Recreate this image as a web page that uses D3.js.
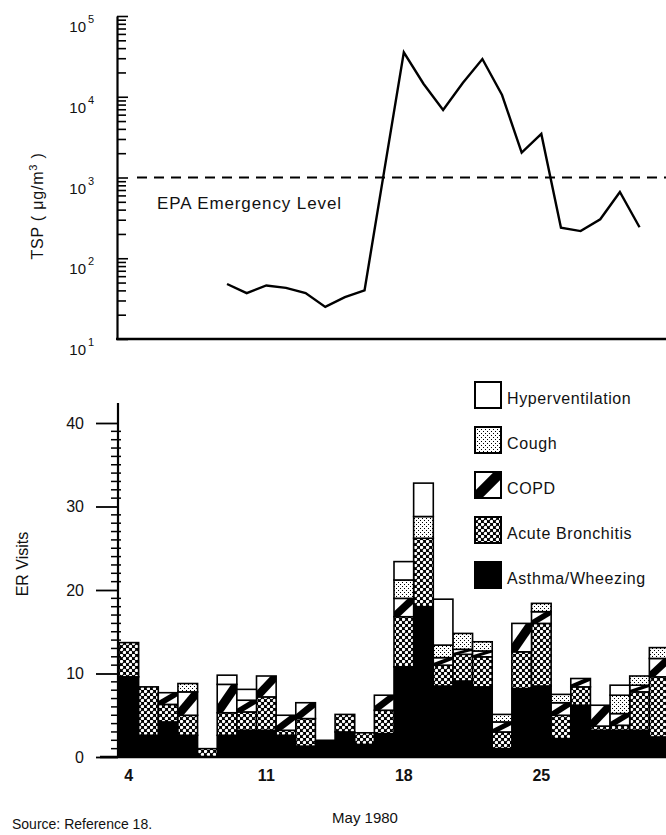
<!DOCTYPE html>
<html>
<head>
<meta charset="utf-8">
<script src="https://cdn.jsdelivr.net/npm/d3@7"></script>
<style>
  body { margin: 0; background: #fff; }
  svg { display: block; }
  text { font-family: "Liberation Sans", Arial, Helvetica, sans-serif; fill: #111; }
</style>
</head>
<body>
<div id="chart"></div>
<script>
// ER visits per day, May 4 .. May 31 1980 (stack order bottom -> top)
const days = d3.range(4, 32);
const asthma     = [9.6, 2.6, 4.2, 2.6, 0, 2.6, 3.2, 3.2, 2.6, 1.3, 2.0, 3.0, 1.5, 2.8, 10.8, 18.0, 8.5, 9.1, 8.4, 1.0, 8.2, 8.5, 2.2, 6.2, 3.2, 3.2, 3.2, 2.4];
const bronchitis = [4.1, 5.8, 2.1, 2.4, 1.0, 2.7, 2.2, 4.0, 0.6, 3.3, 0, 2.1, 1.4, 2.8, 6.0, 8.2, 2.5, 3.2, 3.6, 2.0, 4.4, 7.5, 2.8, 2.2, 0.5, 0.6, 4.6, 7.2];
const copd       = [0, 0, 1.4, 2.8, 0, 3.4, 1.4, 2.5, 1.8, 1.9, 0, 0, 0, 1.8, 2.2, 0, 0.9, 0.6, 0.7, 1.2, 3.4, 1.4, 1.5, 1.0, 2.5, 1.4, 0.8, 2.2];
const cough      = [0, 0, 0, 1.0, 0, 0, 0, 0, 0, 0, 0, 0, 0, 0, 2.2, 2.6, 1.5, 1.9, 1.1, 0.9, 0, 1.0, 1.0, 0, 0, 2.2, 1.1, 1.3];
const hypervent  = [0, 0, 0, 0, 0, 1.1, 1.3, 0, 0, 0, 0, 0, 0, 0, 2.2, 4.0, 5.5, 0, 0, 0, 0, 0, 0, 0, 0, 1.2, 0, 0];

// total suspended particulates, May 9 .. May 30
const tspDays = d3.range(9, 31);
const tspValues = [48, 37, 46, 43, 37, 25, 33, 40, 1200, 35500, 14500, 6850, 14800, 29300, 10500, 2030, 3460, 239, 217, 304, 661, 242];
const epaLevel = 1000;

const tspTicks = [10, 100, 1000, 10000, 100000];
const visitTicks = [0, 10, 20, 30, 40];
const dayTicks = [4, 11, 18, 25];

const keys = ['asthma', 'bronchitis', 'copd', 'cough', 'hypervent'];
const legendItems = [
  { key: 'hypervent', label: 'Hyperventilation' },
  { key: 'cough', label: 'Cough' },
  { key: 'copd', label: 'COPD' },
  { key: 'bronchitis', label: 'Acute Bronchitis' },
  { key: 'asthma', label: 'Asthma/Wheezing' }
];

const W = 666, H = 835;
const svg = d3.select('#chart').append('svg').attr('width', W).attr('height', H);

// patterns
const defs = svg.append('defs');
const stip = defs.append('pattern').attr('id', 'stipple')
  .attr('patternUnits', 'userSpaceOnUse').attr('width', 4).attr('height', 4);
stip.append('rect').attr('width', 4).attr('height', 4).attr('fill', '#fff');
stip.append('rect').attr('width', 1).attr('height', 1).attr('fill', '#000');
stip.append('rect').attr('x', 2).attr('y', 2).attr('width', 1).attr('height', 1).attr('fill', '#000');

const hatch = defs.append('pattern').attr('id', 'xhatch')
  .attr('patternUnits', 'userSpaceOnUse').attr('width', 6).attr('height', 6);
hatch.append('rect').attr('width', 6).attr('height', 6).attr('fill', '#000');
hatch.append('circle').attr('cx', 1.5).attr('cy', 1.5).attr('r', 1.7).attr('fill', '#fff');
hatch.append('circle').attr('cx', 4.5).attr('cy', 4.5).attr('r', 1.7).attr('fill', '#fff');

const fills = {
  asthma: '#000',
  bronchitis: 'url(#xhatch)',
  copd: '#fff',
  cough: 'url(#stipple)',
  hypervent: '#fff'
};

// diagonal band used for COPD boxes
function slashPoints(x0, x1, y0, y1) {
  const w = x1 - x0, h = y1 - y0, t = 0.28;
  return [[x0, y1 - t * h], [x1 - t * w, y0], [x1, y0], [x1, y0 + t * h], [x0 + t * w, y1], [x0, y1]]
    .map(p => p.join(',')).join(' ');
}

// shared x scale
const x = d3.scaleBand().domain(days).range([119, 669]).padding(0);
const xc = d => x(d) + x.bandwidth() / 2;

// ---------------- top panel: TSP ----------------
const yTsp = d3.scaleLog().domain([10, 1e5]).range([339, 16]);

const logTicks = [];
for (let p = 1; p < 5; p++) for (let m = 1; m < 10; m++) logTicks.push(m * Math.pow(10, p));
logTicks.push(1e5);

svg.append('g')
  .attr('transform', 'translate(117,0)')
  .call(d3.axisRight(yTsp).tickValues(logTicks).tickSize(9).tickSizeOuter(0).tickFormat(''))
  .call(g => g.select('.domain').attr('stroke-width', 2.2))
  .call(g => g.selectAll('.tick line').attr('stroke-width', 1.6)
    .attr('x2', d => tspTicks.includes(d) ? 11 : 9));

svg.append('line')
  .attr('x1', 116).attr('x2', W).attr('y1', yTsp(10)).attr('y2', yTsp(10))
  .attr('stroke', '#000').attr('stroke-width', 2.4);

const tl = svg.append('g').selectAll('g').data(tspTicks).enter().append('g');
tl.append('text')
  .attr('x', 86).attr('y', d => yTsp(d) + 16)
  .attr('text-anchor', 'end').style('font-size', '15px')
  .text('10');
tl.append('text')
  .attr('x', 88).attr('y', d => yTsp(d) + 7)
  .style('font-size', '11px')
  .text(d => Math.round(Math.log10(d)));

svg.append('text')
  .attr('transform', 'translate(43,206) rotate(-90)')
  .attr('text-anchor', 'middle')
  .style('font-size', '16px').style('letter-spacing', '0.8px')
  .call(t => {
    t.append('tspan').text('TSP ( \u03bcg/m');
    t.append('tspan').attr('dy', -6).style('font-size', '11px').text('3');
    t.append('tspan').attr('dy', 6).text(' )');
  });

svg.append('line')
  .attr('x1', 137).attr('x2', W)
  .attr('y1', yTsp(epaLevel)).attr('y2', yTsp(epaLevel))
  .attr('stroke', '#000').attr('stroke-width', 2)
  .attr('stroke-dasharray', '10,7');

svg.append('text')
  .attr('x', 157).attr('y', yTsp(epaLevel) + 31)
  .style('font-size', '17px').style('letter-spacing', '0.9px')
  .text('EPA Emergency Level');

const tspLine = d3.line()
  .x((d, i) => xc(tspDays[i]))
  .y(d => yTsp(d));

svg.append('path')
  .datum(tspValues)
  .attr('d', tspLine)
  .attr('fill', 'none')
  .attr('stroke', '#000')
  .attr('stroke-width', 2.4)
  .attr('stroke-linejoin', 'miter');

// ---------------- bottom panel: ER visits ----------------
const yVis = d3.scaleLinear().domain([0, 40]).range([757, 423]);

const rows = days.map((d, i) => ({
  day: d,
  asthma: asthma[i],
  bronchitis: bronchitis[i],
  copd: copd[i],
  cough: cough[i],
  hypervent: hypervent[i]
}));
const series = d3.stack().keys(keys)(rows);

const bars = svg.append('g');
series.forEach(s => {
  const segs = s.filter(d => d[1] - d[0] > 0);
  const g = bars.append('g');
  g.selectAll('rect').data(segs).enter().append('rect')
    .attr('x', d => x(d.data.day))
    .attr('y', d => yVis(d[1]))
    .attr('width', x.bandwidth())
    .attr('height', d => yVis(d[0]) - yVis(d[1]))
    .attr('fill', fills[s.key])
    .attr('stroke', '#000')
    .attr('stroke-width', 1.6);
  if (s.key === 'copd') {
    g.selectAll('polygon').data(segs).enter().append('polygon')
      .attr('points', d => slashPoints(x(d.data.day), x(d.data.day) + x.bandwidth(), yVis(d[1]), yVis(d[0])))
      .attr('fill', '#000');
  }
});

// y axis
svg.append('line')
  .attr('x1', 118).attr('x2', 118).attr('y1', 403).attr('y2', yVis(0))
  .attr('stroke', '#000').attr('stroke-width', 2.2);

svg.append('g').selectAll('line')
  .data(d3.range(1, 41).filter(v => v % 10 !== 0))
  .enter().append('line')
  .attr('x1', 111).attr('x2', 121)
  .attr('y1', d => yVis(d)).attr('y2', d => yVis(d))
  .attr('stroke', '#000').attr('stroke-width', 1.5);

svg.append('g')
  .attr('transform', 'translate(118,0)')
  .call(d3.axisLeft(yVis).tickValues(visitTicks).tickSize(22).tickPadding(12).tickSizeOuter(0))
  .call(g => g.select('.domain').remove())
  .call(g => g.selectAll('.tick line').attr('stroke-width', 1.8))
  .call(g => g.selectAll('.tick text')
    .style('font-size', '16px')
    .style('font-family', '"Liberation Sans", Arial, sans-serif')
    .attr('fill', '#111'));

// baseline
svg.append('line')
  .attr('x1', 100).attr('x2', W).attr('y1', yVis(0)).attr('y2', yVis(0))
  .attr('stroke', '#000').attr('stroke-width', 2.4);

svg.append('g')
  .attr('transform', `translate(0,${yVis(0)})`)
  .call(d3.axisBottom(x).tickValues(dayTicks).tickSize(0).tickPadding(13))
  .call(g => g.select('.domain').remove())
  .call(g => g.selectAll('.tick text')
    .style('font-size', '16px')
    .style('font-weight', 'bold')
    .style('font-family', '"Liberation Sans", Arial, sans-serif')
    .attr('fill', '#111'));

svg.append('text')
  .attr('transform', 'translate(28,564) rotate(-90)')
  .attr('text-anchor', 'middle')
  .style('font-size', '16px')
  .text('ER Visits');

// legend
const leg = svg.append('g').selectAll('g').data(legendItems).enter().append('g')
  .attr('transform', (d, i) => `translate(475,${382 + i * 45})`);
leg.append('rect')
  .attr('width', 26).attr('height', 26)
  .attr('fill', d => fills[d.key])
  .attr('stroke', '#000').attr('stroke-width', 2);
leg.filter(d => d.key === 'copd').append('polygon')
  .attr('points', slashPoints(0, 26, 0, 26))
  .attr('fill', '#000');
leg.append('text')
  .attr('x', 32).attr('y', 22)
  .style('font-size', '16px').style('letter-spacing', '0.6px')
  .text(d => d.label);

// footer
svg.append('text')
  .attr('x', 12).attr('y', 829)
  .style('font-size', '14px')
  .text('Source: Reference 18.');
svg.append('text')
  .attr('x', 365).attr('y', 823)
  .attr('text-anchor', 'middle')
  .style('font-size', '15px')
  .text('May 1980');
</script>
</body>
</html>
